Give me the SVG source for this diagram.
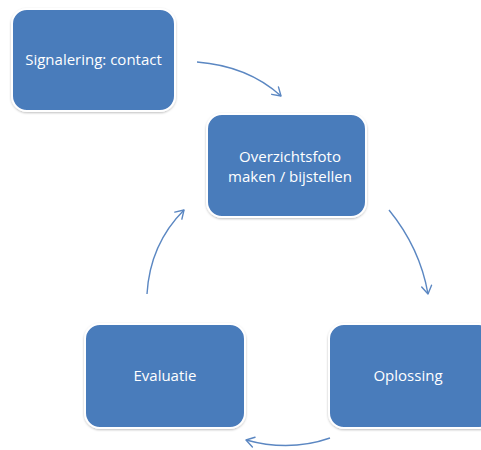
<svg xmlns="http://www.w3.org/2000/svg" width="481" height="450" viewBox="0 0 481 450">
  <defs>
    <filter id="shadow" x="-10%" y="-10%" width="120%" height="125%">
      <feDropShadow dx="0" dy="1" stdDeviation="1.2" flood-color="#000" flood-opacity="0.25"/>
    </filter>
    <marker id="head" viewBox="0 0 12 12" refX="10" refY="6" markerWidth="12" markerHeight="12" markerUnits="userSpaceOnUse" orient="auto">
      <path d="M2,1 L10,6 L2,11" fill="none" stroke="#5b87c2" stroke-width="1.4" stroke-linecap="round" stroke-linejoin="round"/>
    </marker>
  </defs>
  <style>
    .box { fill: #4a7bbb; stroke: #ffffff; stroke-width: 2; filter: url(#shadow); }
    .label { font-family: "Open Sans", "Liberation Sans", sans-serif; font-size: 15px; fill: #ffffff; text-anchor: middle; }
    .link { fill: none; stroke: #5b87c2; stroke-width: 1.4; marker-end: url(#head); }
  </style>
  <rect width="481" height="450" fill="#ffffff"/>

  <g id="connectors">
    <path class="link" d="M197,62 Q248,66 281,96"/>
    <path class="link" d="M389,210 Q420,248 428,294"/>
    <path class="link" d="M330,438 Q290,452 246,440"/>
    <path class="link" d="M147,294 Q150,244 184,210"/>
  </g>

  <g id="signalering">
    <rect class="box" x="12" y="9" width="163" height="102" rx="15"/>
    <text class="label" x="93.5" y="65">Signalering: contact</text>
  </g>

  <g id="overzichtsfoto">
    <rect class="box" x="207" y="114" width="159" height="103" rx="15"/>
    <text class="label" x="290" y="162">Overzichtsfoto</text>
    <text class="label" x="290" y="182">maken / bijstellen</text>
  </g>

  <g id="evaluatie">
    <rect class="box" x="85" y="324" width="160" height="104" rx="15"/>
    <text class="label" x="165" y="381">Evaluatie</text>
  </g>

  <g id="oplossing">
    <rect class="box" x="329" y="324" width="165" height="104" rx="15"/>
    <text class="label" x="408" y="381">Oplossing</text>
  </g>
</svg>
